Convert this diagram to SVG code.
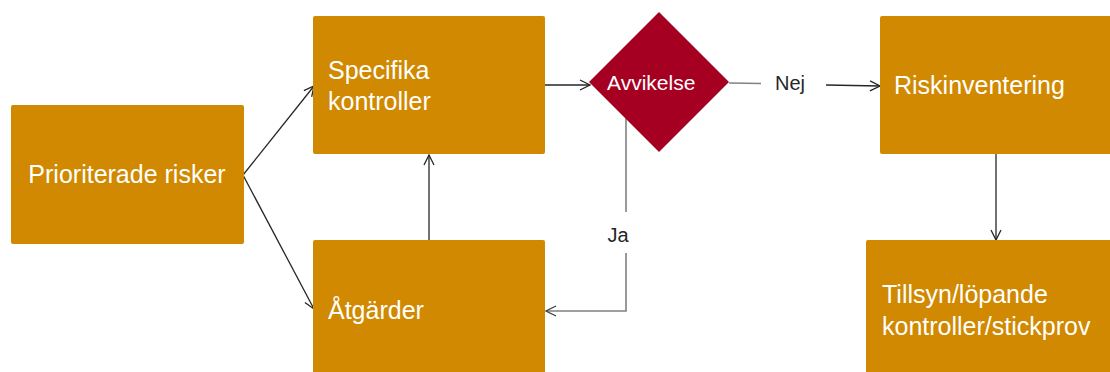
<svg xmlns="http://www.w3.org/2000/svg" width="1110" height="372" viewBox="0 0 1110 372">
  <defs>
    <marker id="arr" viewBox="0 0 12 12" refX="11" refY="6" markerWidth="12" markerHeight="12" markerUnits="userSpaceOnUse" orient="auto">
      <path d="M1,1 L11,6 L1,11" fill="none" stroke="#262626" stroke-width="1.3"/>
    </marker>
    <marker id="arrg" viewBox="0 0 12 12" refX="11" refY="6" markerWidth="12" markerHeight="12" markerUnits="userSpaceOnUse" orient="auto">
      <path d="M1,1 L11,6 L1,11" fill="none" stroke="#404040" stroke-width="1.3"/>
    </marker>
  </defs>
  <style>
    .box { fill: #D08900; }
    .dia { fill: #A50021; }
    .t { font-family: "Liberation Sans", Arial, sans-serif; font-size: 25px; fill: #FFFFFF; }
    .td { font-family: "Liberation Sans", Arial, sans-serif; font-size: 21px; fill: #FFFFFF; }
    .lbl { font-family: "Liberation Sans", Arial, sans-serif; font-size: 20px; fill: #262626; }
    .c { fill: none; stroke: #262626; stroke-width: 1.3; }
    .cg { fill: none; stroke: #808080; stroke-width: 1.6; }
  </style>
  <rect width="1110" height="372" fill="#FFFFFF"/>

  <g id="connectors">
    <line class="c" x1="243" y1="175" x2="314" y2="86" marker-end="url(#arr)"/>
    <line class="c" x1="243" y1="175" x2="314" y2="309" marker-end="url(#arr)"/>
    <line class="c" x1="429" y1="240" x2="429" y2="155" marker-end="url(#arr)"/>
    <line class="c" x1="545" y1="85" x2="590" y2="85" marker-end="url(#arr)"/>
    <line class="cg" x1="729" y1="83" x2="761" y2="83.5"/>
    <line class="c" x1="826" y1="85" x2="880" y2="86" marker-end="url(#arr)"/>
    <polyline class="cg" points="626,118 626,212"/>
    <polyline class="cg" points="626,253 626,311 546,311" marker-end="url(#arrg)"/>
    <line class="c" x1="996" y1="154" x2="996" y2="240" marker-end="url(#arr)"/>
    <text class="lbl" x="790" y="90" text-anchor="middle">Nej</text>
    <text class="lbl" x="618" y="242" text-anchor="middle">Ja</text>
  </g>

  <g id="node-prioriterade">
    <rect class="box" x="11" y="105" width="233" height="139" rx="2"/>
    <text class="t" x="127" y="183" text-anchor="middle">Prioriterade risker</text>
  </g>
  <g id="node-specifika">
    <rect class="box" x="313" y="16" width="232" height="138" rx="2"/>
    <text class="t" x="328" y="79">Specifika</text>
    <text class="t" x="328" y="110">kontroller</text>
  </g>
  <g id="node-atgarder">
    <rect class="box" x="313" y="240" width="232" height="140" rx="2"/>
    <text class="t" x="328" y="319">Åtgärder</text>
  </g>
  <g id="node-avvikelse">
    <polygon class="dia" points="659,12 729,82 659,152 589,82"/>
    <text class="td" x="607" y="90">Avvikelse</text>
  </g>
  <g id="node-riskinventering">
    <rect class="box" x="880" y="16" width="240" height="138" rx="2"/>
    <text class="t" x="894" y="94">Riskinventering</text>
  </g>
  <g id="node-tillsyn">
    <rect class="box" x="866" y="240" width="254" height="140" rx="2"/>
    <text class="t" x="882" y="303">Tillsyn/löpande</text>
    <text class="t" x="882" y="335">kontroller/stickprov</text>
  </g>
</svg>
